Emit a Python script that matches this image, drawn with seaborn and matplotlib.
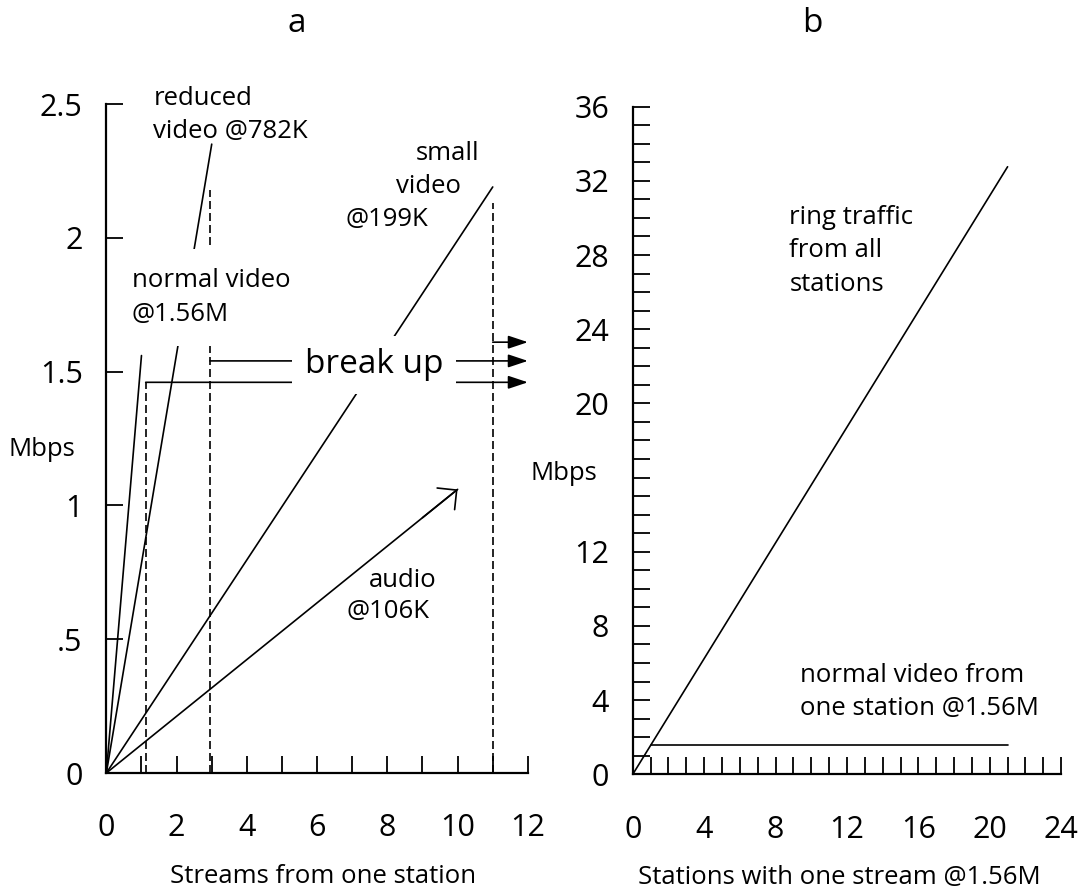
import matplotlib
matplotlib.use("Agg")
import matplotlib.pyplot as plt
from matplotlib.ticker import MultipleLocator
import seaborn as sns
import pandas as pd

# ---------------- data (panel a) ----------------
normal_streams = [0, 1]
normal_mbps = [0, 1.56]
reduced_streams = [0, 3]
reduced_mbps = [0, 2.35]
small_streams = [0, 11]
small_mbps = [0, 2.19]
audio_streams = [0, 10]
audio_mbps = [0, 1.06]

dashed_x = [1.12, 2.95, 11.0]
dashed_top = [1.46, 2.18, 2.13]
breakup_x_start = [1.12, 2.95, 11.0]
breakup_y = [1.46, 1.54, 1.61]
breakup_x_end = [12, 12, 12]

left_yticks = [0, 0.5, 1, 1.5, 2, 2.5]
left_yticklabels = ["0", ".5", "1", "1.5", "2", "2.5"]
left_xticks = [0, 2, 4, 6, 8, 10, 12]

# ---------------- data (panel b) ----------------
ring_stations = [0, 21]
ring_mbps = [0, 32.76]
one_station_x = [1, 21]
one_station_mbps = [1.56, 1.56]

right_yticks = [0, 4, 8, 12, 20, 24, 28, 32, 36]
right_xticks = [0, 4, 8, 12, 16, 20, 24]

sns.set_theme(style="ticks")
plt.rcParams["font.family"] = ["Open Sans", "DejaVu Sans"]
plt.rcParams["text.color"] = "black"
plt.rcParams["axes.labelcolor"] = "black"
plt.rcParams["xtick.color"] = "black"
plt.rcParams["ytick.color"] = "black"

ANN = 18.5
TICK = 22
LW = 1.2

fig = plt.figure(figsize=(10.83, 8.92), dpi=100)
axL = fig.add_axes([0.0982, 0.1334, 0.3892, 0.75])
axR = fig.add_axes([0.5843, 0.132, 0.3955, 0.7484])

# ---------- panel a lines ----------
df_left = pd.concat([
    pd.DataFrame({"streams": normal_streams, "mbps": normal_mbps, "series": "normal video"}),
    pd.DataFrame({"streams": reduced_streams, "mbps": reduced_mbps, "series": "reduced video"}),
    pd.DataFrame({"streams": small_streams, "mbps": small_mbps, "series": "small video"}),
    pd.DataFrame({"streams": audio_streams, "mbps": audio_mbps, "series": "audio"}),
], ignore_index=True)
pal = {s: "black" for s in df_left["series"].unique()}
sns.lineplot(data=df_left, x="streams", y="mbps", hue="series", palette=pal,
             estimator=None, sort=False, legend=False, lw=LW, ax=axL, zorder=2)

axL.vlines(dashed_x, 0, dashed_top, colors="black", linewidth=LW,
           linestyles=[(0, (4.8, 2.4))], zorder=2)

for x0, y0, x1 in zip(breakup_x_start, breakup_y, breakup_x_end):
    axL.annotate("", xy=(x1, y0), xytext=(x0, y0), annotation_clip=False,
                 arrowprops=dict(arrowstyle="-|>,head_length=0.6,head_width=0.2",
                                 color="black", lw=LW, shrinkA=0, shrinkB=0,
                                 mutation_scale=20), zorder=2)

# open corner arrow head on audio line
axL.annotate("", xy=(audio_streams[1], audio_mbps[1]),
             xytext=(audio_streams[1] - 1, audio_mbps[1] - 0.106),
             arrowprops=dict(arrowstyle="->,head_length=1.0,head_width=1.0",
                             color="black", lw=LW, shrinkA=0, shrinkB=0,
                             mutation_scale=10), zorder=2)

axL.text(7.63, 1.525, "break up", fontsize=24, ha="center", va="center",
         bbox=dict(boxstyle="square,pad=0.38", fc="white", ec="none"), zorder=5)
axL.text(1.34, 2.459, "reduced\nvideo @782K", fontsize=ANN, ha="left", va="center",
         linespacing=1.45, zorder=5)
axL.text(0.73, 1.777, "normal video\n@1.56M", fontsize=ANN, ha="left", va="center",
         linespacing=1.45, bbox=dict(boxstyle="square,pad=0.75", fc="white", ec="none"),
         zorder=5)
axL.text(9.72, 2.315, "small", fontsize=ANN, ha="center", va="center")
axL.text(9.16, 2.193, "video", fontsize=ANN, ha="center", va="center")
axL.text(7.98, 2.07, "@199K", fontsize=ANN, ha="center", va="center")
axL.text(8.44, 0.721, "audio", fontsize=ANN, ha="center", va="center")
axL.text(8.03, 0.603, "@106K", fontsize=ANN, ha="center", va="center")

axL.set_xlim(0, 12)
axL.set_ylim(0, 2.5)
axL.set_xticks(left_xticks)
axL.set_xticklabels([str(v) for v in left_xticks])
axL.xaxis.set_minor_locator(MultipleLocator(1))
axL.set_yticks(left_yticks)
axL.set_yticklabels(left_yticklabels)

# ---------- panel b lines ----------
df_right = pd.concat([
    pd.DataFrame({"stations": ring_stations, "mbps": ring_mbps, "series": "ring traffic"}),
    pd.DataFrame({"stations": one_station_x, "mbps": one_station_mbps, "series": "one station"}),
], ignore_index=True)
palR = {s: "black" for s in df_right["series"].unique()}
sns.lineplot(data=df_right, x="stations", y="mbps", hue="series", palette=palR,
             estimator=None, sort=False, legend=False, lw=LW, ax=axR)

axR.text(8.77, 28.22, "ring traffic\nfrom all\nstations", fontsize=ANN, ha="left",
         va="center", linespacing=1.45)
axR.text(9.35, 4.44, "normal video from\none station @1.56M", fontsize=ANN, ha="left",
         va="center", linespacing=1.45)

axR.set_xlim(0, 24)
axR.set_ylim(0, 36)
axR.set_xticks(right_xticks)
axR.set_xticklabels([str(v) for v in right_xticks])
axR.xaxis.set_minor_locator(MultipleLocator(1))
axR.set_yticks(right_yticks)
axR.set_yticklabels([str(v) for v in right_yticks])
axR.yaxis.set_minor_locator(MultipleLocator(1))

# ---------- common styling ----------
for ax in (axL, axR):
    sns.despine(ax=ax)
    for sp in ("left", "bottom"):
        ax.spines[sp].set_linewidth(1.6)
        ax.spines[sp].set_color("black")
    ax.tick_params(which="both", direction="in", length=12.5, width=1.3, color="black")
    ax.tick_params(axis="y", which="major", labelsize=TICK, pad=17)
    ax.tick_params(axis="x", which="major", labelsize=TICK, pad=29)
    ax.grid(False)

axL.set_xlabel("Streams from one station", fontsize=ANN, va="center")
axL.xaxis.set_label_coords(0.514, -0.155)
axL.set_ylabel("Mbps", fontsize=ANN, rotation=0, ha="center", va="center")
axL.yaxis.set_label_coords(-0.153, 0.483)

axR.set_xlabel("Stations with one stream @1.56M", fontsize=ANN, va="center")
axR.xaxis.set_label_coords(0.481, -0.154)
axR.set_ylabel("Mbps", fontsize=ANN, rotation=0, ha="center", va="center")
axR.yaxis.set_label_coords(-0.161, 0.451)

fig.text(297 / 1083, 1 - 23 / 892, "a", fontsize=24, ha="center", va="center")
fig.text(812 / 1083, 1 - 23 / 892, "b", fontsize=24, ha="center", va="center")

fig.savefig("out.png", dpi=100, facecolor="white")
